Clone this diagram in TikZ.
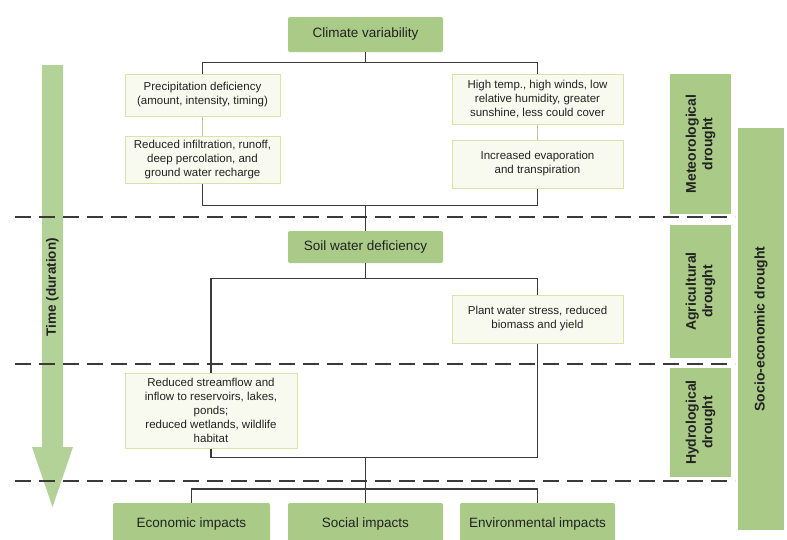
\documentclass[tikz,border=0pt]{standalone}
\usepackage{fontspec}
\setmainfont{Liberation Sans}
\usepackage{tikz}
\usetikzlibrary{positioning,calc}
\definecolor{DroughtGreen}{HTML}{AACB87}
\definecolor{ArrowGreen}{HTML}{B2D297}
\definecolor{NoteFill}{HTML}{F9FAEF}
\definecolor{NoteEdge}{HTML}{DCE1A8}
\definecolor{LinkGray}{HTML}{3A3A3A}
\definecolor{TextGray}{HTML}{222222}

\begin{document}
\begin{tikzpicture}[x=1pt, y=-1pt,
    stage/.style={fill=DroughtGreen, rounded corners=2pt, text=TextGray, font=\fontsize{13.5}{16}\selectfont, minimum width=155pt, minimum height=35pt, inner sep=2pt},
    note/.style={fill=NoteFill, draw=NoteEdge, line width=1pt, text=TextGray, align=center, font=\fontsize{11.5}{14}\selectfont, inner sep=2pt},
    band/.style={fill=DroughtGreen, text=TextGray, rotate=90, align=center, font=\bfseries\fontsize{14}{16.5}\selectfont, minimum height=61pt, inner sep=2pt},
    link/.style={LinkGray, line width=1.4pt},
    faint/.style={NoteEdge!80!black!80, line width=1pt},
    sep/.style={LinkGray, line width=1.7pt, dash pattern=on 16pt off 8pt}]
    \useasboundingbox (0,0) rectangle (787,539);
    \clip (0,0) rectangle (787,539);
    \fill[white] (0,0) rectangle (787,539);

    % time arrow
    \fill[ArrowGreen] (42,65) -- (63,65) -- (63,447) -- (73,447) -- (52.5,507) -- (32,447) -- (42,447) -- cycle;
    \node[rotate=90, text=TextGray, font=\bfseries\fontsize{13.5}{16}\selectfont] (time) at (52.5,287) {Time (duration)};

    % stage separators
    \foreach \y in {217,364,481}
        \draw[sep] (15,\y) -- (735,\y);

    % meteorological part
    \node[stage] (clim) at (365.5,34.5) {Climate variability};
    \node[note, minimum width=155pt, minimum height=42pt] (precip) at (202.5,95) {Precipitation deficiency\\(amount, intensity, timing)};
    \node[note, minimum width=155pt, minimum height=47pt] (infil) at (202.5,159.5) {Reduced infiltration, runoff,\\deep percolation, and\\ground water recharge};
    \node[note, minimum width=171pt, minimum height=50pt] (temp) at (537.5,99) {High temp., high winds, low\\relative humidity, greater\\sunshine, less could cover};
    \node[note, minimum width=171pt, minimum height=48pt] (evap) at (537.5,164) {Increased evaporation\\and transpiration};

    % agricultural and hydrological part
    \node[stage, minimum height=32pt] (soil) at (365.5,247) {Soil water deficiency};
    \node[note, minimum width=171pt, minimum height=48pt] (plant) at (537.5,319) {Plant water stress, reduced\\biomass and yield};
    \node[note, minimum width=172pt, minimum height=75pt] (stream) at (211,410.5) {Reduced streamflow and\\inflow to reservoirs, lakes,\\ponds;\\reduced wetlands, wildlife\\habitat};

    % impacts
    \node[stage, minimum width=157pt, minimum height=42pt] (econ) at (191.5,524) {Economic impacts};
    \node[stage, minimum height=42pt] (social) at (365.5,524) {Social impacts};
    \node[stage, minimum height=42pt] (envi) at (537.5,524) {Environmental impacts};

    % drought types
    \node[band, minimum width=140pt] (met) at (700.5,144) {Meteorological\\drought};
    \node[band, minimum width=133pt] (agri) at (700.5,291.5) {Agricultural\\drought};
    \node[band, minimum width=109pt] (hydro) at (700.5,422.5) {Hydrological\\drought};
    \node[band, minimum width=402pt, minimum height=46pt] (socio) at (761,329) {Socio-economic drought};

    % connectors
    \draw[link] (clim.south) -- ++(0,10.5) coordinate (split1);
    \draw[link] (precip.north) -- (precip.north |- split1) -- (temp.north |- split1) -- (temp.north);
    \draw[faint] (precip) -- (infil);
    \draw[faint] (temp) -- (evap);
    \draw[link] (infil.south) -- ++(0,22) coordinate (join1) -- (join1 -| evap.south) -- (evap.south);
    \draw[link] (join1 -| clim.south) -- (soil.north);
    \draw[link] (soil.south) -- ++(0,15) coordinate (split2);
    \draw[link] (stream.north) -- (stream.north |- split2) -- (plant.north |- split2) -- (plant.north);
    \draw[link] (stream.south) -- ++(0,9) coordinate (join2) -- (join2 -| plant.south) -- (plant.south);
    \draw[link] (join2 -| soil.south) -- (social.north);
    \draw[link] (econ.north) -- ++(0,-14) coordinate (split3) -- (split3 -| envi.north) -- (envi.north);
\end{tikzpicture}
\end{document}
